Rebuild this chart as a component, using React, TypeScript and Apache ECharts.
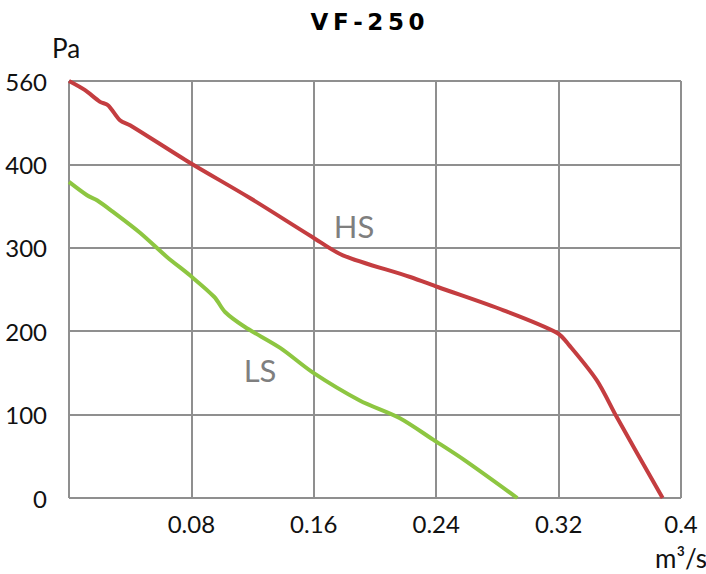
import React, { useEffect, useRef } from "react";
import * as echarts from "echarts";

const xTicks = [0, 0.08, 0.16, 0.24, 0.32, 0.4];
const yTickLabels: Record<number, string> = { 0: "0", 100: "100", 200: "200", 300: "300", 400: "400", 500: "560" };

const hsFlow = [0, 0.0105, 0.0203, 0.0255, 0.0333, 0.0399, 0.079, 0.118, 0.159, 0.179, 0.223, 0.241, 0.284, 0.319, 0.327, 0.345, 0.358, 0.388];
const hsPressure = [500, 489, 475, 471, 453, 447, 402, 360, 313, 291, 265, 253, 225, 198, 183, 141, 97, 0];

const lsFlow = [0, 0.0118, 0.0183, 0.0288, 0.0464, 0.064, 0.079, 0.095, 0.102, 0.115, 0.138, 0.159, 0.19, 0.216, 0.238, 0.258, 0.293];
const lsPressure = [379, 363, 357, 343, 318, 289, 267, 241, 223, 205, 180, 151, 117, 96, 70, 46, 0];

const title = "VF-250";
const labelFont = "Lato, 'Open Sans', sans-serif";

export default function App() {
  const ref = useRef<HTMLDivElement>(null);
  useEffect(() => {
    if (!ref.current) return;
    const chart = echarts.init(ref.current, undefined, { renderer: "svg" });
    const hs = hsFlow.map((x, i) => [x, hsPressure[i]]);
    const ls = lsFlow.map((x, i) => [x, lsPressure[i]]);
    const gridColor = "#8f8f8f";
    chart.setOption({
      animation: false,
      backgroundColor: "#ffffff",
      grid: { left: 69, top: 81, width: 612, height: 417 },
      xAxis: {
        type: "value",
        min: xTicks[0],
        max: xTicks[xTicks.length - 1],
        interval: 0.08,
        axisLine: { show: false },
        axisTick: { show: false },
        splitLine: { show: true, lineStyle: { color: gridColor, width: 2 } },
        axisLabel: {
          margin: 13,
          fontFamily: labelFont,
          fontSize: 24,
          color: "#111111",
          formatter: (v: number) => {
            const r = parseFloat(v.toFixed(2));
            return r === 0 ? "" : String(r);
          },
        },
      },
      yAxis: {
        type: "value",
        min: 0,
        max: 500,
        interval: 100,
        axisLine: { show: false },
        axisTick: { show: false },
        splitLine: { show: true, lineStyle: { color: gridColor, width: 2 } },
        axisLabel: {
          margin: 22,
          fontFamily: labelFont,
          fontSize: 24,
          color: "#111111",
          formatter: (v: number) => yTickLabels[Math.round(v)] ?? String(v),
        },
      },
      series: [
        {
          type: "line",
          name: "HS",
          data: hs,
          showSymbol: false,
          smooth: 0.3,
          lineStyle: { color: "#c43d40", width: 4 },
          itemStyle: { color: "#c43d40" },
        },
        {
          type: "line",
          name: "LS",
          data: ls,
          showSymbol: false,
          smooth: 0.3,
          lineStyle: { color: "#8dc641", width: 4 },
          itemStyle: { color: "#8dc641" },
        },
      ],
      graphic: [
        {
          type: "text",
          x: 367.5,
          y: 22,
          style: {
            text: title.split("").join("\u2009"),
            fontFamily: "'DejaVu Sans', sans-serif",
            fontWeight: "bold",
            fontSize: 23,
            fill: "#000000",
            align: "center",
            verticalAlign: "middle",
          },
        },
        {
          type: "text",
          x: 52,
          y: 48,
          style: {
            text: "Pa",
            fontFamily: labelFont,
            fontSize: 26,
            fill: "#111111",
            align: "left",
            verticalAlign: "middle",
          },
        },
        {
          type: "text",
          x: 655,
          y: 558,
          style: {
            text: "m³/s",
            fontFamily: labelFont,
            fontSize: 26,
            fill: "#111111",
            align: "left",
            verticalAlign: "middle",
          },
        },
        {
          type: "text",
          x: 354,
          y: 226,
          style: {
            text: "HS",
            fontFamily: labelFont,
            fontSize: 31,
            fill: "#7f7f7f",
            align: "center",
            verticalAlign: "middle",
          },
        },
        {
          type: "text",
          x: 260,
          y: 370,
          style: {
            text: "LS",
            fontFamily: labelFont,
            fontSize: 31,
            fill: "#7f7f7f",
            align: "center",
            verticalAlign: "middle",
          },
        },
      ],
    });
    return () => chart.dispose();
  }, []);
  return <div ref={ref} style={{ width: 706, height: 574, position: "absolute", left: 0, top: 0 }} />;
}
